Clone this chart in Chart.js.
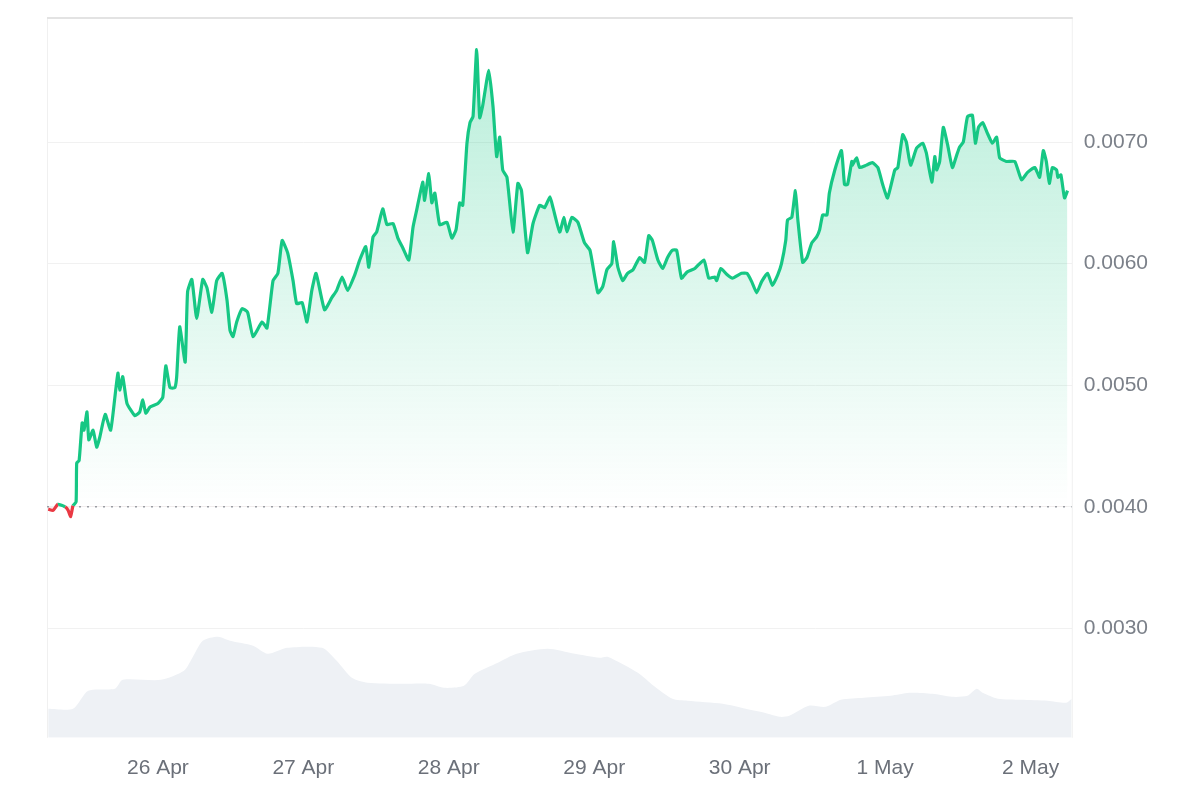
<!DOCTYPE html>
<html>
<head>
<meta charset="utf-8">
<script src="https://cdn.jsdelivr.net/npm/chart.js@4.4.1/dist/chart.umd.min.js"></script>
<style>
  html, body { margin: 0; padding: 0; background: #ffffff; }
  #wrap { width: 1200px; height: 800px; }
</style>
</head>
<body>
<div id="wrap"><canvas id="priceChart" width="1200" height="800"></canvas></div>
<script>
// hours relative to 26 Apr 00:00
const priceHours = [
  -18.1, -17.3, -16.5, -15.3, -14.8, -14.4, -14.0, -13.5, -13.4, -13.0, -12.5, -12.2, -11.7, -11.4, -10.7, -10.1,
  -9.6, -8.7, -7.8, -7.1, -6.6, -6.3, -5.8, -5.1, -3.8, -3.0, -2.5, -2.0, -1.3, 0.0, 0.8, 1.3,
  2.0, 2.8, 3.1, 3.6, 4.5, 4.9, 5.6, 6.4, 7.4, 8.1, 8.9, 9.7, 10.6, 11.4, 11.9, 12.4,
  13.0, 13.9, 14.8, 15.7, 17.2, 18.0, 19.0, 19.8, 20.5, 21.4, 22.3, 22.9, 23.8, 24.6, 25.4, 26.1,
  27.5, 28.7, 29.5, 30.4, 31.3, 32.5, 33.3, 34.3, 34.8, 35.5, 36.1, 37.1, 37.8, 38.8, 39.6, 40.4,
  41.4, 42.1, 42.7, 43.7, 44.0, 44.7, 45.2, 45.7, 46.5, 47.7, 48.5, 49.2, 49.8, 50.3, 51.0, 51.5,
  52.0, 52.6, 53.1, 53.6, 54.6, 55.3, 55.9, 56.4, 56.9, 57.6, 58.6, 59.4, 60.0, 61.0, 61.9, 63.0,
  63.8, 64.7, 65.2, 66.3, 67.0, 67.5, 68.3, 69.3, 70.4, 71.3, 72.6, 73.4, 74.1, 74.9, 75.2, 75.9,
  76.7, 77.5, 78.4, 79.5, 80.3, 81.0, 81.6, 82.5, 83.3, 84.1, 84.9, 85.6, 86.4, 87.3, 88.6, 90.1,
  90.9, 91.9, 92.2, 92.9, 93.9, 94.8, 96.3, 97.2, 98.0, 98.8, 99.6, 100.6, 101.4, 102.3, 102.9, 103.6,
  103.9, 104.6, 105.2, 105.6, 106.4, 107.1, 107.9, 108.7, 109.2, 109.7, 110.4, 110.8, 111.7, 112.8, 113.3, 113.8,
  114.5, 114.6, 115.3, 115.8, 116.9, 117.9, 118.8, 119.6, 120.4, 121.6, 122.1, 122.9, 123.5, 124.2, 125.2, 126.2,
  126.8, 127.7, 128.2, 128.5, 129.0, 129.6, 130.3, 131.1, 131.8, 132.3, 132.9, 133.6, 134.4, 134.9, 135.4, 136.1,
  136.9, 137.7, 138.4, 138.9, 140.0, 141.4, 142.5, 143.5, 144.7, 145.5, 146.1, 146.6, 147.1, 147.6, 148.3, 148.5,
  149.0, 149.6, 150.1
];
const priceValues = [
  0.00398, 0.00397, 0.00402, 0.00400, 0.00397, 0.00392, 0.00401, 0.00404, 0.00436, 0.00438, 0.00469, 0.00463, 0.00478, 0.00455, 0.00463, 0.00449,
  0.00457, 0.00476, 0.00463, 0.00490, 0.00510, 0.00496, 0.00507, 0.00485, 0.00475, 0.00478, 0.00488, 0.00477, 0.00482, 0.00485, 0.00490, 0.00516,
  0.00498, 0.00498, 0.00507, 0.00548, 0.00519, 0.00577, 0.00587, 0.00555, 0.00587, 0.00580, 0.00560, 0.00586, 0.00592, 0.00570, 0.00545, 0.00540,
  0.00552, 0.00563, 0.00560, 0.00540, 0.00552, 0.00547, 0.00586, 0.00592, 0.00619, 0.00609, 0.00586, 0.00567, 0.00568, 0.00552, 0.00578, 0.00592,
  0.00562, 0.00572, 0.00578, 0.00589, 0.00578, 0.00591, 0.00603, 0.00614, 0.00597, 0.00622, 0.00626, 0.00645, 0.00632, 0.00633, 0.00621, 0.00613,
  0.00603, 0.00630, 0.00644, 0.00667, 0.00652, 0.00674, 0.00650, 0.00658, 0.00632, 0.00634, 0.00621, 0.00628, 0.00650, 0.00648, 0.00699, 0.00716,
  0.00721, 0.00776, 0.00720, 0.00730, 0.00759, 0.00729, 0.00688, 0.00704, 0.00677, 0.00671, 0.00626, 0.00666, 0.00660, 0.00609, 0.00633, 0.00648,
  0.00646, 0.00655, 0.00646, 0.00626, 0.00638, 0.00626, 0.00638, 0.00634, 0.00617, 0.00611, 0.00576, 0.00581, 0.00595, 0.00600, 0.00618, 0.00597,
  0.00586, 0.00592, 0.00595, 0.00605, 0.00601, 0.00623, 0.00619, 0.00603, 0.00596, 0.00605, 0.00611, 0.00611, 0.00588, 0.00593, 0.00596, 0.00603,
  0.00588, 0.00589, 0.00586, 0.00596, 0.00591, 0.00588, 0.00592, 0.00592, 0.00585, 0.00576, 0.00585, 0.00592, 0.00582, 0.00591, 0.00600, 0.00619,
  0.00636, 0.00638, 0.00660, 0.00636, 0.00601, 0.00605, 0.00617, 0.00622, 0.00628, 0.00640, 0.00640, 0.00658, 0.00677, 0.00693, 0.00665, 0.00665,
  0.00684, 0.00681, 0.00687, 0.00679, 0.00681, 0.00683, 0.00679, 0.00665, 0.00654, 0.00677, 0.00679, 0.00706, 0.00700, 0.00681, 0.00695, 0.00699,
  0.00691, 0.00667, 0.00688, 0.00677, 0.00684, 0.00712, 0.00698, 0.00679, 0.00689, 0.00696, 0.00700, 0.00721, 0.00722, 0.00699, 0.00712, 0.00716,
  0.00707, 0.00699, 0.00704, 0.00687, 0.00684, 0.00684, 0.00669, 0.00675, 0.00679, 0.00671, 0.00693, 0.00684, 0.00666, 0.00679, 0.00677, 0.00671,
  0.00673, 0.00654, 0.00660
];

// volume, arbitrary units (drawn on its own hidden axis)
const volumeHours = [
  -18.1, -14.0, -11.5, -7.1, -5.8, 0.5, 4.3, 5.6, 7.4, 9.9, 11.9, 15.7, 18.1, 21.3, 27.1, 29.5,
  32.0, 34.6, 40.2, 44.7, 47.2, 50.5, 52.3, 56.1, 59.2, 64.3, 68.8, 72.9, 74.2, 79.2, 81.8, 84.9,
  87.4, 93.2, 97.0, 100.1, 102.6, 104.2, 107.4, 110.2, 112.7, 116.5, 120.9, 124.0, 127.8, 131.0, 133.6, 135.1,
  136.1, 138.6, 142.4, 146.8, 149.9, 150.8
];
const volumeValues = [
  14.5, 14.5, 23.5, 24.5, 29, 29, 33.5, 39.5, 48.5, 50.5, 48.5, 46, 42, 45, 45, 38.5,
  30, 27.5, 27, 27, 25, 26, 32, 37.5, 42, 44.5, 42, 40, 40.5, 32.5, 26, 19.5,
  18.5, 17, 14.5, 12.5, 10.5, 11, 16, 15.5, 19, 20, 21, 22.5, 22, 20.5, 21, 24.5,
  22.5, 19.5, 19, 18.5, 17.5, 19.5
];

const dayTicks = [0, 24, 48, 72, 96, 120, 144];
const dayLabels = ['26 Apr', '27 Apr', '28 Apr', '29 Apr', '30 Apr', '1 May', '2 May'];
const priceTicks = [0.003, 0.004, 0.005, 0.006, 0.007];
const startPrice = 0.004;

const green = '#16c784';
const red = '#ea3943';
const font = { family: "'Liberation Sans', Arial, sans-serif", size: 21 };

// Rahmen oben und an den Seiten
const framePlugin = {
  id: 'frame',
  beforeDatasetsDraw(chart) {
    const { ctx, chartArea: a } = chart;
    ctx.save();
    ctx.strokeStyle = '#f0f0f0';
    ctx.lineWidth = 1;
    ctx.beginPath();
    ctx.moveTo(a.left + 0.5, a.top);
    ctx.lineTo(a.left + 0.5, a.bottom);
    ctx.moveTo(a.right + 0.5, a.top);
    ctx.lineTo(a.right + 0.5, a.bottom);
    ctx.stroke();
    ctx.strokeStyle = '#e3e3e3';
    ctx.lineWidth = 2;
    ctx.beginPath();
    ctx.moveTo(a.left, a.top);
    ctx.lineTo(a.right + 1, a.top);
    ctx.stroke();
    ctx.restore();
  }
};

function greenFill(context) {
  const chart = context.chart;
  const area = chart.chartArea;
  if (!area) return 'rgba(22,199,132,0.15)';
  const base = chart.scales.y.getPixelForValue(startPrice);
  const g = chart.ctx.createLinearGradient(0, area.top, 0, base);
  g.addColorStop(0, 'rgba(22,199,132,0.32)');
  g.addColorStop(1, 'rgba(22,199,132,0.0)');
  return g;
}

const config = {
  type: 'line',
  data: {
    datasets: [
      {
        label: 'Price',
        data: priceHours.map((h, i) => ({ x: h, y: priceValues[i] })),
        borderColor: green,
        borderWidth: 3.2,
        backgroundColor: greenFill,
        fill: { target: { value: startPrice }, below: 'rgba(234,57,67,0.12)' },
        segment: {
          borderColor: ctx => (ctx.p0.parsed.y + ctx.p1.parsed.y) / 2 < startPrice ? red : green
        },
        pointRadius: 0,
        tension: 0.15,
        yAxisID: 'y',
        order: 1
      },
      {
        label: 'Start',
        data: [{ x: -18.3, y: startPrice }, { x: 150.8, y: startPrice }],
        borderColor: '#9aa0a6',
        borderWidth: 1.6,
        borderDash: [2, 6],
        pointRadius: 0,
        fill: false,
        yAxisID: 'y',
        order: 2
      },
      {
        label: 'Volume',
        data: volumeHours.map((h, i) => ({ x: h, y: volumeValues[i] })),
        borderWidth: 0,
        borderColor: 'rgba(0,0,0,0)',
        backgroundColor: '#eef1f5',
        fill: 'origin',
        pointRadius: 0,
        tension: 0.25,
        yAxisID: 'vol',
        order: 3
      }
    ]
  },
  options: {
    responsive: false,
    animation: false,
    layout: { padding: { left: 47, top: 18, right: 40, bottom: 1 } },
    plugins: {
      legend: { display: false },
      tooltip: { enabled: false }
    },
    scales: {
      x: {
        type: 'linear',
        min: -18.3,
        max: 150.8,
        afterBuildTicks: axis => { axis.ticks = dayTicks.map(v => ({ value: v })); },
        ticks: {
          font: font,
          color: '#6b7079',
          padding: 18,
          maxRotation: 0,
          autoSkip: false,
          callback: value => dayLabels[dayTicks.indexOf(value)]
        },
        grid: { display: false, drawTicks: false },
        border: { display: false }
      },
      y: {
        position: 'right',
        min: 0.0021,
        max: 0.00802,
        afterBuildTicks: axis => { axis.ticks = priceTicks.map(v => ({ value: v })); },
        // oberste Beschriftung liegt weit unten, kein Extra-Abstand nötig
        afterFit: axis => { axis.paddingTop = 0; },
        ticks: {
          font: font,
          color: '#7b8089',
          padding: 12,
          callback: value => value.toFixed(4)
        },
        grid: { color: '#f1f1f1', lineWidth: 1, drawTicks: false },
        border: { display: false }
      },
      vol: {
        display: false,
        min: 0,
        max: 360
      }
    }
  },
  plugins: [framePlugin]
};

const ctx = document.getElementById('priceChart').getContext('2d');
const priceChart = new Chart(ctx, config);
</script>
</body>
</html>
